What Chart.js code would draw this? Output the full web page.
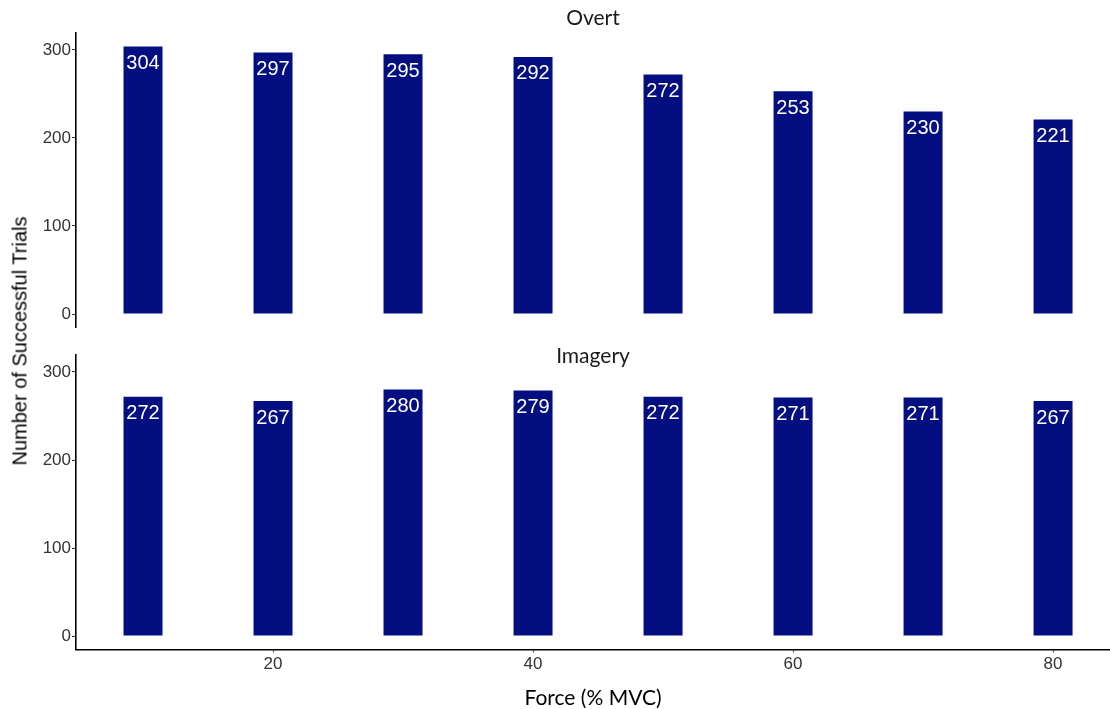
<!DOCTYPE html>
<html>
<head>
<meta charset="utf-8">
<script src="https://cdn.jsdelivr.net/npm/chart.js@4.4.0/dist/chart.umd.min.js"></script>
<style>
    html, body { margin: 0; padding: 0; background: #fff; }
    #wrap { position: relative; width: 1110px; height: 709px; overflow: hidden; background: #fff; }
    #wrap canvas { position: absolute; left: 0; }
    #yTitle {
        position: absolute; left: 20px; top: 341px;
        transform: translate(-50%, -50%) rotate(-90deg);
        white-space: nowrap; line-height: 1;
        font: 20px "Liberation Sans", Arial, sans-serif; color: #000;
    }
</style>
</head>
<body>
<div id="wrap">
    <canvas id="overtChart" width="1110" height="340" style="top:0"></canvas>
    <canvas id="imageryChart" width="1110" height="369" style="top:340px"></canvas>
    <div id="yTitle">Number of Successful Trials</div>
</div>
<script>
const forceLevels = [10, 20, 30, 40, 50, 60, 70, 80];
const overtTrials = [304, 297, 295, 292, 272, 253, 230, 221];
const imageryTrials = [272, 267, 280, 279, 272, 271, 271, 267];
const xTickValues = [20, 40, 60, 80];
const yTickValues = [0, 100, 200, 300];

const barColor = '#030E80';
const axisFont = '"Liberation Sans", Arial, sans-serif';

// draws the count inside the top of each bar
const barLabels = {
    id: 'barLabels',
    afterDatasetsDraw(chart) {
        const ctx = chart.ctx;
        const meta = chart.getDatasetMeta(0);
        const values = chart.data.datasets[0].data;
        ctx.save();
        ctx.fillStyle = '#ffffff';
        ctx.font = '20px ' + axisFont;
        ctx.textAlign = 'center';
        ctx.textBaseline = 'middle';
        meta.data.forEach(function(bar, i) {
            ctx.fillText(String(values[i].y), bar.x, bar.y + 17);
        });
        ctx.restore();
    }
};

// facet strip title + optional x axis title
const panelText = {
    id: 'panelText',
    afterDraw(chart, args, opts) {
        const ctx = chart.ctx;
        const area = chart.chartArea;
        const cx = (area.left + area.right) / 2;
        ctx.save();
        ctx.textAlign = 'center';
        ctx.textBaseline = 'alphabetic';
        ctx.fillStyle = '#1a1a1a';
        ctx.font = '21px Lato, "Open Sans", sans-serif';
        ctx.fillText(opts.title, cx, opts.titleY);
        if (opts.xTitle) {
            ctx.fillStyle = '#000';
            ctx.fillText(opts.xTitle, cx, opts.xTitleY);
        }
        ctx.restore();
    }
};

function buildOptions(showX, panel) {
    return {
        responsive: false,
        animation: false,
        layout: {
            padding: panel.padding
        },
        scales: {
            x: {
                type: 'linear',
                display: showX,
                min: 4.846,
                max: 84.38,
                offset: false,
                afterBuildTicks: function(scale) {
                    scale.ticks = xTickValues.map(v => ({ value: v }));
                },
                afterFit: function(scale) {
                    if (showX) scale.height = 59.6;
                },
                grid: {
                    offset: false,
                    drawOnChartArea: false,
                    drawTicks: true,
                    tickLength: 3,
                    color: '#333'
                },
                border: {
                    display: true,
                    color: '#000',
                    width: 1.6
                },
                ticks: {
                    font: { family: axisFont, size: 17 },
                    color: '#333',
                    padding: 2,
                    maxRotation: 0
                }
            },
            y: {
                type: 'linear',
                min: -15.2,
                max: 319.2,
                afterBuildTicks: function(scale) {
                    scale.ticks = yTickValues.map(v => ({ value: v }));
                },
                afterFit: function(scale) {
                    scale.width = 76;
                },
                grid: {
                    drawOnChartArea: false,
                    drawTicks: true,
                    tickLength: 4,
                    color: '#333'
                },
                border: {
                    display: true,
                    color: '#000',
                    width: 1.6
                },
                ticks: {
                    font: { family: axisFont, size: 17 },
                    color: '#333',
                    padding: 1
                }
            }
        },
        plugins: {
            legend: { display: false },
            tooltip: { enabled: false },
            panelText: panel.text
        }
    };
}

function makeDataset(values) {
    return {
        data: forceLevels.map((f, i) => ({ x: f, y: values[i] })),
        backgroundColor: barColor,
        borderWidth: 0,
        barPercentage: 0.3,
        categoryPercentage: 1.0
    };
}

new Chart(document.getElementById('overtChart'), {
    type: 'bar',
    data: { datasets: [makeDataset(overtTrials)] },
    options: buildOptions(false, {
        padding: { top: 33, bottom: 12.6, left: 0, right: 0 },
        text: { title: 'Overt', titleY: 25 }
    }),
    plugins: [barLabels, panelText]
});

new Chart(document.getElementById('imageryChart'), {
    type: 'bar',
    data: { datasets: [makeDataset(imageryTrials)] },
    options: buildOptions(true, {
        padding: { top: 15.1, bottom: 0, left: 0, right: 0 },
        text: { title: 'Imagery', titleY: 23, xTitle: 'Force (% MVC)', xTitleY: 365 }
    }),
    plugins: [barLabels, panelText]
});
</script>
</body>
</html>
